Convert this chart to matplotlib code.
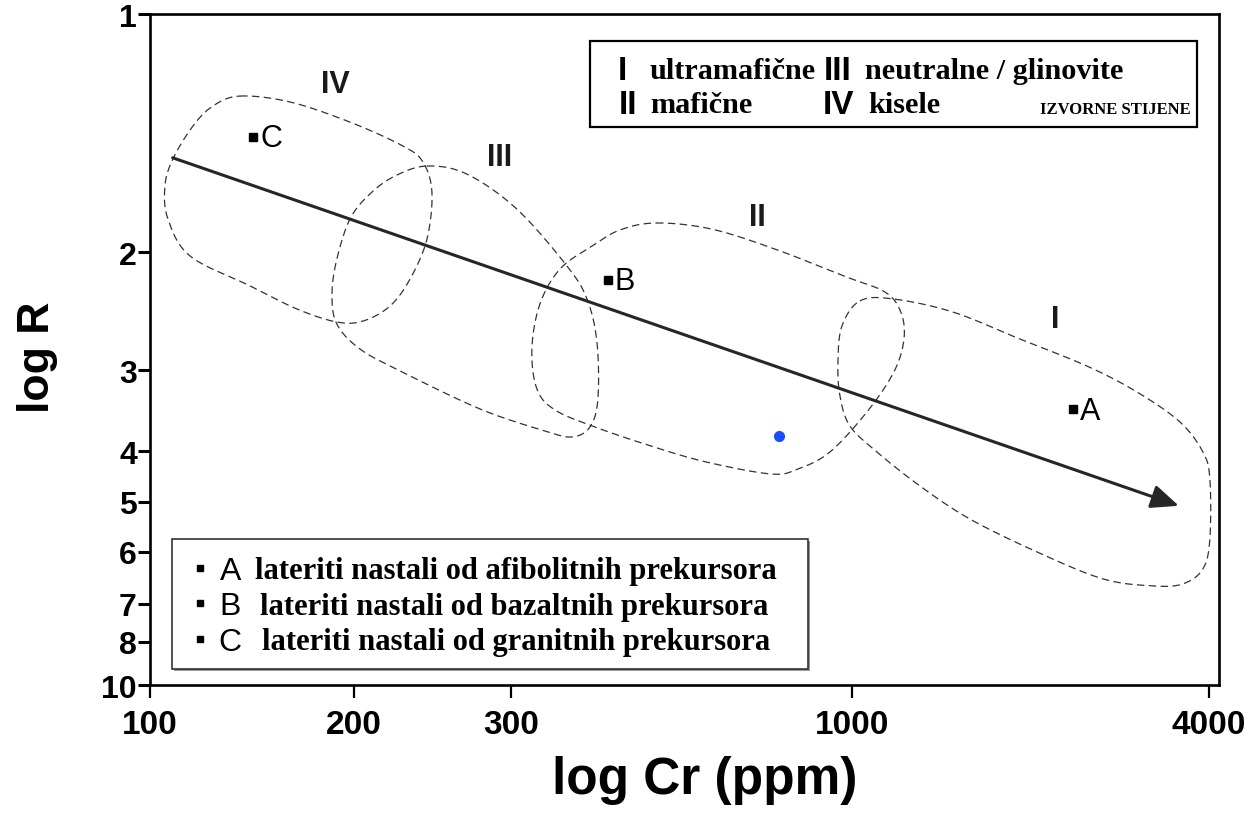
import numpy as np
import matplotlib
matplotlib.use("Agg")
import matplotlib.pyplot as plt
from matplotlib.patches import Rectangle
from matplotlib.ticker import NullLocator

# ---------------- data ----------------
x_ticks = [100, 200, 300, 1000, 4000]
x_tick_labels = ["100", "200", "300", "1000", "4000"]
y_ticks = [1, 2, 3, 4, 5, 6, 7, 8, 10]
y_tick_labels = ["1", "2", "3", "4", "5", "6", "7", "8", "10"]

# sample points (Cr ppm, R)
point_names = ["A", "B", "C"]
point_cr = [2360, 422, 142]
point_r = [3.45, 2.20, 1.43]
blue_cr = [773]
blue_r = [3.79]

# trend arrow (start, end)
arrow_cr = [108, 3560]
arrow_r = [1.52, 5.07]

# field outlines (Cr ppm, R)
field_IV_cr = [135.8, 160.9, 197.3, 227.0, 239.0, 244.6, 241.5, 231.2, 219.5, 204.8,
               188.7, 164.8, 140.5, 114.6, 106.3, 105.2, 108.1, 115.7, 123.9]
field_IV_r = [1.270, 1.292, 1.370, 1.469, 1.539, 1.680, 1.926, 2.194, 2.408, 2.535,
              2.544, 2.433, 2.247, 2.028, 1.817, 1.651, 1.525, 1.386, 1.307]

field_III_cr = [241.5, 267.7, 306.3, 365.5, 392.3, 406.4, 407.8, 396.5, 372.1, 338.1,
                276.9, 225.3, 203.1, 188.7, 185.6, 188.7, 197.3, 208.4, 222.3]
field_III_r = [1.557, 1.594, 1.765, 2.098, 2.350, 2.724, 3.325, 3.673, 3.805, 3.725,
               3.445, 3.010, 2.791, 2.562, 2.311, 2.048, 1.817, 1.689, 1.603]

field_II_cr = [500.6, 607.8, 761.9, 971.9, 1137, 1209, 1224, 1177, 1060, 925.3, 826.5,
               751.3, 597.2, 491.8, 403.5, 350.4, 328.8, 323.0, 332.3, 356.6, 399.3, 440.7]
field_II_r = [1.838, 1.870, 1.983, 2.172, 2.295, 2.458, 2.697, 3.021, 3.482, 4.017, 4.327,
              4.423, 4.196, 3.930, 3.673, 3.457, 3.209, 2.791, 2.391, 2.121, 1.966, 1.876]

field_I_cr = [1031.6, 1172.6, 1480, 1920, 2490, 3024, 3573, 3908, 4015, 4015, 3908,
              3615, 3218, 2651, 2051, 1581, 1302, 1102, 993, 958.6, 951.8, 965.4]
field_I_r = [2.366, 2.350, 2.458, 2.697, 2.959, 3.243, 3.607, 4.017, 4.521, 5.722, 6.308,
             6.595, 6.634, 6.498, 5.998, 5.320, 4.661, 4.017, 3.660, 3.289, 2.919, 2.579]

field_names = ["IV", "III", "II", "I"]
field_label_cr = [187.5, 291.5, 715, 2199]
field_label_r = [1.226, 1.516, 1.806, 2.52]

legend_top = [("I", "ultramafične"), ("III", "neutralne / glinovite"),
              ("II", "mafične"), ("IV", "kisele")]
legend_top_note = "IZVORNE STIJENE"
legend_bottom = [("A", "lateriti nastali od afibolitnih prekursora"),
                 ("B", "lateriti nastali od bazaltnih prekursora"),
                 ("C", "lateriti nastali od granitnih prekursora")]

# ---------------- hand-drawn (piecewise log) axis scales ----------------
x_tick_pos = [0, 204, 361, 702, 1059]
y_tick_pos = [15, 253, 371, 452, 503, 553, 605, 643, 686]


def piecewise_log(vals, pos):
    lv = np.log10(np.asarray(vals, float))
    pv = np.asarray(pos, float)
    s0 = (pv[1] - pv[0]) / (lv[1] - lv[0])
    s1 = (pv[-1] - pv[-2]) / (lv[-1] - lv[-2])

    def fwd(v):
        v = np.asarray(v, float)
        l = np.log10(np.clip(v, 1e-9, None))
        out = np.interp(l, lv, pv)
        out = np.where(l < lv[0], pv[0] + (l - lv[0]) * s0, out)
        out = np.where(l > lv[-1], pv[-1] + (l - lv[-1]) * s1, out)
        return out

    def inv(p):
        p = np.asarray(p, float)
        l = np.interp(p, pv, lv)
        l = np.where(p < pv[0], lv[0] + (p - pv[0]) / s0, l)
        l = np.where(p > pv[-1], lv[-1] + (p - pv[-1]) / s1, l)
        return 10 ** l

    return fwd, inv


fx, fxi = piecewise_log(x_ticks, x_tick_pos)
fy, fyi = piecewise_log(y_ticks, y_tick_pos)


def closed_curve(xs, ys, n=40):
    P = np.column_stack([fx(xs), fy(ys)])
    N = len(P)
    t = np.linspace(0, 1, n, endpoint=False)[:, None]
    segs = []
    for i in range(N):
        p0, p1, p2, p3 = P[(i - 1) % N], P[i], P[(i + 1) % N], P[(i + 2) % N]
        segs.append(0.5 * (2 * p1 + (-p0 + p2) * t + (2 * p0 - 5 * p1 + 4 * p2 - p3) * t ** 2
                           + (-p0 + 3 * p1 - 3 * p2 + p3) * t ** 3))
    segs.append(P[:1])
    C = np.vstack(segs)
    return fxi(C[:, 0]), fyi(C[:, 1])


SANS = "Liberation Sans"
SERIF = "Liberation Serif"

fig = plt.figure(figsize=(12.53, 8.20), dpi=100)
ax = fig.add_axes([150 / 1253, 1 - 686 / 820, 1069 / 1253, 671 / 820])
ax.set_xscale("function", functions=(fx, fxi))
ax.set_yscale("function", functions=(fy, fyi))
ax.set_xlim(100, 4160)
ax.set_ylim(10, 1)

for s in ax.spines.values():
    s.set_linewidth(1.9)
    s.set_color("black")

ax.set_xticks(x_ticks)
ax.set_xticklabels(x_tick_labels, fontfamily=SANS, fontweight="bold", fontsize=24)
ax.set_yticks(y_ticks)
ax.set_yticklabels(y_tick_labels, fontfamily=SANS, fontweight="bold", fontsize=23)
ax.xaxis.set_minor_locator(NullLocator())
ax.yaxis.set_minor_locator(NullLocator())
ax.tick_params(axis="x", direction="out", length=9.5, width=1.6, pad=8)
ax.tick_params(axis="y", direction="out", length=8.5, width=2.2, pad=1)

ax.set_xlabel("log Cr (ppm)", fontfamily=SANS, fontweight="bold", fontsize=37)
ax.set_ylabel("log R", fontfamily=SANS, fontweight="bold", fontsize=32)
ax.xaxis.set_label_coords(0.519, -0.104)
ax.yaxis.set_label_coords(-0.086, 0.49)

# fields
for xs, ys in [(field_IV_cr, field_IV_r), (field_III_cr, field_III_r),
               (field_II_cr, field_II_r), (field_I_cr, field_I_r)]:
    cx, cy = closed_curve(np.array(xs), np.array(ys))
    ax.plot(cx, cy, color="#333333", lw=0.9, linestyle=(0, (6, 3.5)))

for name, xv, yv in zip(field_names, field_label_cr, field_label_r):
    ax.text(xv, yv, name, fontfamily=SANS, fontweight="bold", fontsize=22,
            ha="center", va="center", color="#1a1a1a")

# trend arrow
ax.annotate("", xy=(arrow_cr[1], arrow_r[1]), xytext=(arrow_cr[0], arrow_r[0]),
            arrowprops=dict(arrowstyle="-|>,head_length=0.7,head_width=0.3",
                            mutation_scale=24, lw=2.2, color="#262626",
                            shrinkA=0, shrinkB=0))

# sample points
ax.plot(point_cr, point_r, "s", color="black", markersize=5.5, linestyle="none")
for name, xv, yv in zip(point_names, point_cr, point_r):
    ax.annotate(name, (xv, yv), xytext=(5, -1), textcoords="offset points",
                fontfamily=SANS, fontsize=22, ha="left", va="center")
ax.plot(blue_cr, blue_r, "o", color="#1a4dff", markersize=7, linestyle="none")

# top legend box
ax.add_patch(Rectangle((0.4116, 0.8316), 0.5678, 0.1282, transform=ax.transAxes,
                       facecolor="white", edgecolor="black", lw=1.6, zorder=5))
top_pos = [(0.4415, 0.4677, 0.916), (0.6436, 0.6689, 0.916),
           (0.4470, 0.4677, 0.865), (0.6436, 0.6717, 0.865)]
for (num, word), (nx, wx, yy) in zip(legend_top, top_pos):
    ax.text(nx, yy, num, transform=ax.transAxes, fontfamily=SANS, fontweight="bold",
            fontsize=24, ha="center", va="center", zorder=6)
    ax.text(wx, yy, word, transform=ax.transAxes, fontfamily=SERIF, fontweight="bold",
            fontsize=21.8, ha="left", va="center", zorder=6)
ax.text(0.8326, 0.859, legend_top_note, transform=ax.transAxes, fontfamily=SERIF,
        fontweight="bold", fontsize=12, ha="left", va="center", zorder=6)

# bottom legend box
ax.add_patch(Rectangle((0.0226, 0.0208), 0.5949, 0.1938, transform=ax.transAxes,
                       facecolor="#9a9a9a", edgecolor="none", lw=0, zorder=4))
ax.add_patch(Rectangle((0.0206, 0.0238), 0.5949, 0.1938, transform=ax.transAxes,
                       facecolor="white", edgecolor="#222222", lw=1.1, zorder=5))
rows_y = [0.1699, 0.1177, 0.0641]
text_x = [0.0982, 0.1029, 0.1048]
for (letter, txt), yy, tx in zip(legend_bottom, rows_y, text_x):
    ax.plot([0.0468], [yy + 0.004], "s", color="black", markersize=5,
            transform=ax.transAxes, zorder=6)
    ax.text(0.0752, yy, letter, transform=ax.transAxes, fontfamily=SANS, fontsize=23,
            ha="center", va="center", zorder=6)
    ax.text(tx, yy, txt, transform=ax.transAxes, fontfamily=SERIF, fontweight="bold",
            fontsize=22, ha="left", va="center", zorder=6)

fig.savefig("out.png", dpi=100)
